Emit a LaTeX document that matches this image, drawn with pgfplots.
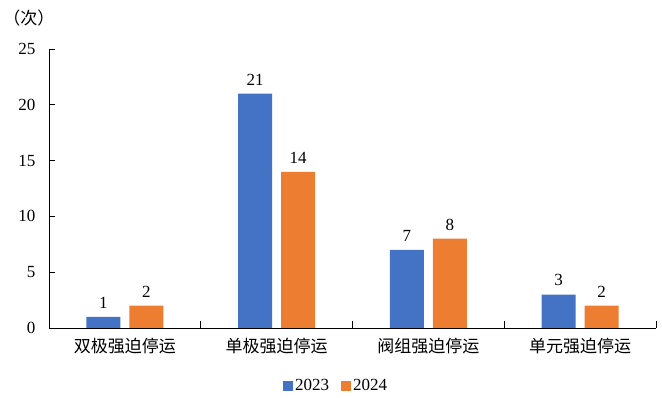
\documentclass[border=0pt]{standalone}
\usepackage{pgfplots}
\pgfplotsset{compat=1.18}
\usepackage{fontspec}
\setmainfont{Liberation Serif}
\newfontfamily\cjk{Noto Sans CJK SC}
\definecolor{c23}{HTML}{4472C4}
\definecolor{c24}{HTML}{ED7D31}
\begin{document}
\begin{tikzpicture}
\begin{axis}[
  at={(0,0)}, anchor=south west,
  scale only axis, width=607pt, height=279pt,
  xmin=-0.5, xmax=3.5, ymin=0, ymax=25,
  ybar, bar width=34pt,
  axis x line*=bottom, axis y line*=left,
  axis line style={line width=0.8pt, -},
  xtick={0,1,2,3},
  xticklabels={{\cjk 双极强迫停运},{\cjk 单极强迫停运},{\cjk 阀组强迫停运},{\cjk 单元强迫停运}},
  x tick label style={font=\fontsize{17}{20}\selectfont, yshift=-7pt},
  major x tick style={draw=none},
  minor xtick={-0.5,0.5,1.5,2.5,3.5},
  minor x tick style={black, line width=0.8pt},
  minor tick length=7pt,
  ytick={0,5,10,15,20,25},
  major tick length=6pt,
  y tick style={black, line width=0.8pt},
  tick align=inside,
  y tick label style={font=\fontsize{17}{20}\selectfont, xshift=-10pt},
  /pgf/number format/assume math mode=true,
  nodes near coords,
  every node near coord/.append style={font=\fontsize{17}{20}\selectfont, black, yshift=5pt},
  legend style={at={(0.473,-0.208)}, anchor=center, draw=none, legend columns=2,
    font=\fontsize{17}{20}\selectfont, /tikz/every even column/.append style={column sep=10pt}},
  legend image code/.code={\fill[#1] (0pt,-4.5pt) rectangle (10pt,5.5pt);},
  clip=false,
]
\addplot[fill=c23, draw=none, bar shift=-21.5pt] coordinates {(0,1) (1,21) (2,7) (3,3)};
\addplot[fill=c24, draw=none, bar shift=21.5pt] coordinates {(0,2) (1,14) (2,8) (3,2)};
\legend{2023,2024}
\end{axis}
\node[font=\fontsize{17}{20}\selectfont\cjk] at (-20pt,310pt) {（次）};
\path (-49pt,-70pt) rectangle (613pt,328pt);
\end{tikzpicture}
\end{document}
